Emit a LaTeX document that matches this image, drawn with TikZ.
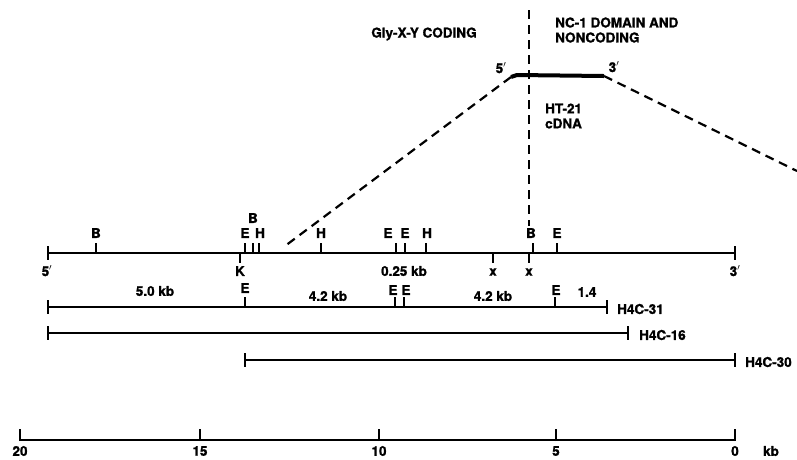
\documentclass[tikz,border=0pt]{standalone}
\usepackage{fontspec}
\setmainfont{TeX Gyre Heros}[BoldFeatures={FakeBold=1.2}]
\begin{document}
\begin{tikzpicture}[x=1pt,y=-1pt,
  line/.style={line width=2.1pt},
  tk/.style={line width=1.9pt},
  dash line/.style={line width=2.2pt, dash pattern=on 9pt off 6pt},
  lab/.style={font=\fontsize{13.5}{15}\selectfont\bfseries, inner sep=0pt},
  ]
\useasboundingbox (0,0) rectangle (797,459);
% main map
\coordinate (m5) at (48,253);
\coordinate (m3) at (735,253);
\draw[line] (m5) -- (m3);
\draw[tk] (48,246) -- (48,260);
\draw[tk] (735,246) -- (735,260);
\foreach \x in {96,245,253,259,321,396,405,426,533,557}
  \draw[tk] (\x,253) -- (\x,243);
\foreach \x in {240,493,529}
  \draw[tk] (\x,253) -- (\x,263);
\node[lab] (lB1) at (96,233) {B};
\node[lab] (lE1) at (245,233) {E};
\node[lab] (lB2) at (253,218) {B};
\node[lab] (lH1) at (260,233) {H};
\node[lab] (lH2) at (321,233) {H};
\node[lab] (lE2) at (388,233) {E};
\node[lab] (lE3) at (405,233) {E};
\node[lab] (lH3) at (427,233) {H};
\node[lab] (lB3) at (531,233) {B};
\node[lab] (lE4) at (557,233) {E};
\node[lab] (l5p) at (47,271) {5$'$};
\node[lab] (lK) at (240,271) {K};
\node[lab] (l025) at (404,271) {0.25 kb};
\node[lab] (lx1) at (493,272) {x};
\node[lab] (lx2) at (529,272) {x};
\node[lab] (l3p) at (735,271) {3$'$};
% H4C-31
\draw[line] (48,307) -- (607,307);
\draw[tk] (48,300) -- (48,314);
\draw[tk] (607,300) -- (607,314);
\foreach \x in {245,395,404,555}
  \draw[tk] (\x,307) -- (\x,297);
\node[lab] (k50) at (155,291) {5.0 kb};
\node[lab] (kE1) at (245,288) {E};
\node[lab] (k42a) at (328,296) {4.2 kb};
\node[lab] (kE2) at (393,290) {E};
\node[lab] (kE3) at (406,290) {E};
\node[lab] (k42b) at (493,296) {4.2 kb};
\node[lab] (kE4) at (556,290) {E};
\node[lab] (k14) at (587,292) {1.4};
\node[lab,anchor=west] (n31) at (617,309) {H4C-31};
% H4C-16
\draw[line] (48,333) -- (628,333);
\draw[tk] (48,326) -- (48,340);
\draw[tk] (628,326) -- (628,340);
\node[lab,anchor=west] (n16) at (639,335) {H4C-16};
% H4C-30
\draw[line] (245,360) -- (735,360);
\draw[tk] (245,353) -- (245,367);
\draw[tk] (735,353) -- (735,367);
\node[lab,anchor=west] (n30) at (745,362) {H4C-30};
% scale
\draw[line] (20,440) -- (735,440);
\foreach \x/\t in {20/20,200/15,379/10,556/5,735/0}{
  \draw[tk] (\x,441) -- (\x,429);
  \node[lab] at (\x,451) {\t};
}
\node[lab] (kb) at (771,451) {kb};
% cDNA
\coordinate (c5) at (511,77);
\coordinate (c3) at (604,76);
\draw[line width=4pt] (c5) -- (517,75) -- (c3);
\node[lab] (c5l) at (501,68) {5$'$};
\node[lab] (c3l) at (614,67) {3$'$};
\coordinate (dl) at (285,246);
\coordinate (dr) at (797,171);
\draw[dash line] (c5) -- (dl);
\draw[dash line] (c3) -- (dr);
\coordinate (vt) at (529,10);
\coordinate (vb) at (529,226);
\draw[dash line] (vt) -- (vb);
\node[lab] (gly) at (424,34) {Gly-X-Y CODING};
\node[lab,anchor=west,align=left] (nc1) at (555,30) {NC-1 DOMAIN AND\\NONCODING};
\node[lab,anchor=west,align=left] (ht) at (545,116) {HT-21\\cDNA};
\end{tikzpicture}
\end{document}
